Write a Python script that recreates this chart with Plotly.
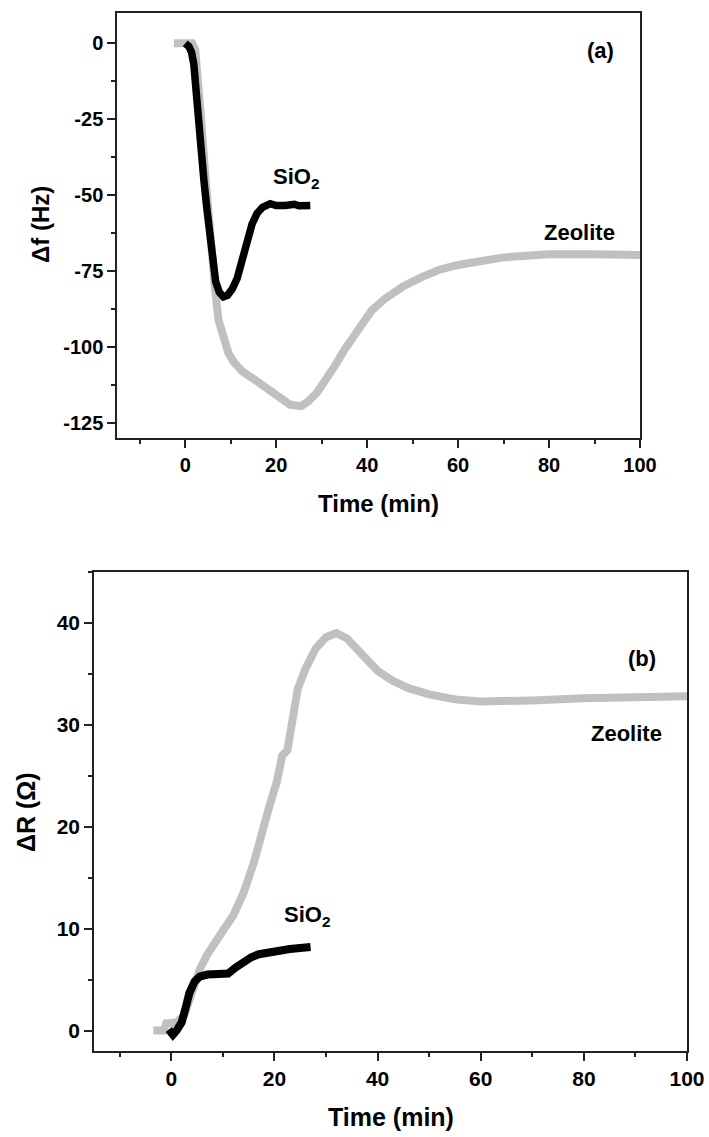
import plotly.graph_objects as go

# Panel (a): frequency shift vs time
zeo_f_t = [-2.5, 1.5, 2.2, 2.8, 3.5, 4.5, 5.5, 6.5, 7.3, 8.3, 9.5, 10.7, 12.5, 15, 17, 19, 21, 23, 25.5,
           27, 29, 31, 33, 35, 38, 41, 44, 48, 52, 56, 60, 65, 70, 75, 80, 90, 100]
zeo_f_v = [0, 0, -2, -10, -25, -45, -65, -80, -91, -97, -102, -105, -108, -110.5, -112.5, -115, -117,
           -119, -119.5, -118, -115, -111, -106, -101, -94, -88, -84, -80, -77, -74.5, -73, -71.5,
           -70.5, -70, -69.5, -69.5, -69.7]

sio_f_t = [0, 0.8, 1.4, 1.9, 2.3, 2.8, 3.4, 4.1, 4.8, 5.4, 6.0, 6.7, 7.5, 8.4, 9.3, 10.3, 11.4, 12.5,
           13.6, 14.7, 15.8, 17, 18.7, 20, 22, 24, 25, 27.5]
sio_f_v = [0, -1, -3, -7, -14, -24, -35, -45, -55, -64, -72, -78.5, -82, -83.5, -83, -81, -77.5, -71,
           -64, -59.5, -56, -54, -52.8, -53.4, -53.4, -53, -53.5, -53.4]

# Panel (b): resistance change vs time
zeo_r_t = [-3.5, -1.5, -1, 1, 2.5, 3.5, 4.5, 5.5, 7, 8.5, 10, 12, 14, 16, 17.5, 19, 20.5, 21.5, 22.5,
           23.5, 24.5, 26, 28, 30, 32, 34, 36, 38, 40, 43, 46, 50, 55, 60, 65, 70, 80, 90, 100]
zeo_r_v = [0, 0, 0.7, 0.8, 1.5, 3, 4.5, 6, 7.5, 8.5, 9.8, 11.3, 13.5, 16.5, 19.5, 22, 24.5, 27, 27.5,
           31, 33.5, 35.5, 37.5, 38.6, 39, 38.5, 37.4, 36.2, 35.3, 34.3, 33.6, 33, 32.5, 32.3, 32.3,
           32.4, 32.6, 32.7, 32.8]

sio_r_t = [-0.5, 0.3, 1, 2, 2.8, 3.5, 4.5, 5.5, 7, 9, 11, 12.5, 14, 15.5, 17, 19, 21, 23, 25, 27]
sio_r_v = [0.1, -0.4, 0, 0.8, 2.3, 3.7, 4.8, 5.3, 5.5, 5.5, 5.6, 6.2, 6.8, 7.2, 7.5, 7.7, 7.9, 8.0,
           8.1, 8.2]

# Tick values and labels (plain hyphen for negatives)
time_ticks = [0, 20, 40, 60, 80, 100]
df_ticks = [0, -25, -50, -75, -100, -125]
df_labels = ["0", "-25", "-50", "-75", "-100", "-125"]
dr_ticks = [0, 10, 20, 30, 40]

W, H = 709, 1137
GRAY = "#c0c0c0"
FONT = "Liberation Sans"

fig = go.Figure()
fig.add_trace(go.Scatter(x=zeo_f_t, y=zeo_f_v, mode="lines", line=dict(color=GRAY, width=8),
                         xaxis="x", yaxis="y"))
fig.add_trace(go.Scatter(x=sio_f_t, y=sio_f_v, mode="lines", line=dict(color="black", width=7.5),
                         xaxis="x", yaxis="y"))
fig.add_trace(go.Scatter(x=zeo_r_t, y=zeo_r_v, mode="lines", line=dict(color=GRAY, width=8),
                         xaxis="x2", yaxis="y2"))
fig.add_trace(go.Scatter(x=sio_r_t, y=sio_r_v, mode="lines", line=dict(color="black", width=8),
                         xaxis="x2", yaxis="y2"))


def bold(s):
    return dict(family=FONT, size=s, color="black", weight="bold")


def minor(step):
    return dict(ticks="outside", ticklen=4, tickwidth=1.5, tickcolor="#222", dtick=step)


def axis_style(**kw):
    d = dict(showline=True, linecolor="#222", linewidth=1.5, mirror=True,
             ticks="outside", ticklen=8, tickwidth=1.5, tickcolor="#222",
             showgrid=False, zeroline=False, automargin=False,
             tickfont=bold(20))
    d.update(kw)
    return d


def px_x(p):
    return p / W


def px_y(p):
    return 1 - p / H


fig.update_layout(
    width=W, height=H, showlegend=False,
    paper_bgcolor="white", plot_bgcolor="white",
    margin=dict(l=0, r=0, t=0, b=0),
    xaxis=axis_style(domain=[px_x(117), px_x(640)], range=[-15, 100],
                     tickmode="array", tickvals=time_ticks,
                     minor=minor(10), anchor="y"),
    yaxis=axis_style(domain=[px_y(438), px_y(13)], range=[-130, 10],
                     tickmode="array", tickvals=df_ticks, ticktext=df_labels,
                     minor=minor(12.5), anchor="x"),
    xaxis2=axis_style(domain=[px_x(94), px_x(687)], range=[-15, 100],
                      tickmode="array", tickvals=time_ticks,
                      minor=minor(10), anchor="y2", tickfont=bold(21)),
    yaxis2=axis_style(domain=[px_y(1051), px_y(572)], range=[-2, 45],
                      tickmode="array", tickvals=dr_ticks,
                      minor=minor(5), anchor="x2", tickfont=bold(21)),
)

annotations = [
    # axis titles
    dict(text="Time (min)", x=px_x(378.5), y=px_y(503), font=bold(24)),
    dict(text="Time (min)", x=px_x(390.5), y=px_y(1117), font=bold(25)),
    dict(text="Δf (Hz)", x=px_x(40), y=px_y(225), font=bold(24), textangle=-90),
    dict(text="ΔR (Ω)", x=px_x(26), y=px_y(812), font=bold(25), textangle=-90),
]
for a in annotations:
    a.update(xref="paper", yref="paper", xanchor="center", yanchor="middle", showarrow=False)

labels = [
    dict(text="(a)", x=91.3, y=-2.2, xref="x", yref="y", font=bold(22)),
    dict(text="Zeolite", x=86.7, y=-62.2, xref="x", yref="y", font=bold(22)),
    dict(text="SiO<sub>2</sub>", x=24.4, y=-44.3, xref="x", yref="y", font=bold(22)),
    dict(text="(b)", x=91.3, y=36.5, xref="x2", yref="y2", font=bold(22)),
    dict(text="Zeolite", x=88.3, y=29.2, xref="x2", yref="y2", font=bold(22)),
    dict(text="SiO<sub>2</sub>", x=26.4, y=11.2, xref="x2", yref="y2", font=bold(22)),
]
for a in labels:
    a.update(xanchor="center", yanchor="middle", showarrow=False)

fig.update_layout(annotations=annotations + labels)

fig.write_html("out.html")
